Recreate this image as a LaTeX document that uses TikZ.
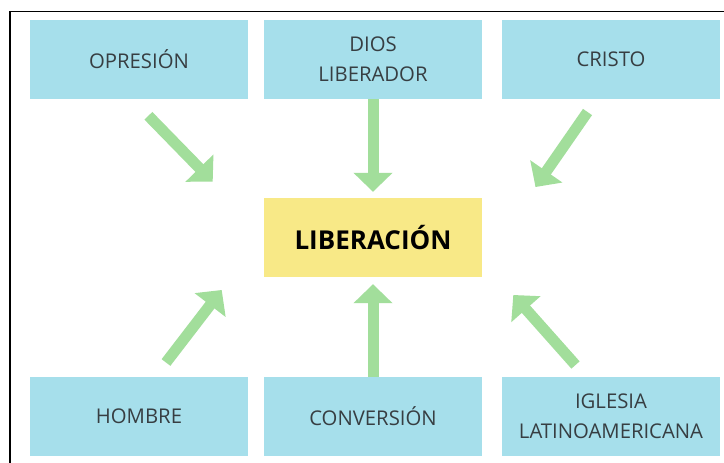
\documentclass[tikz,border=0pt]{standalone}
\usepackage{fontspec}
\setmainfont{Open Sans}
\usetikzlibrary{arrows.meta}
\definecolor{boxblue}{RGB}{166,223,235}
\definecolor{boxyellow}{RGB}{248,233,135}
\definecolor{arrgreen}{RGB}{162,222,155}
\definecolor{txtgrey}{RGB}{55,62,66}
\begin{document}
\begin{tikzpicture}[x=1pt,y=-1pt,
  bluebox/.style={fill=boxblue,draw=none,minimum width=218pt,minimum height=79pt,inner sep=0pt,
    align=center,text=txtgrey,font=\fontsize{20.3}{30}\selectfont},
  mainbox/.style={fill=boxyellow,draw=none,minimum width=218pt,minimum height=79pt,inner sep=0pt,
    text=black,font=\fontsize{26}{30}\selectfont\bfseries},
  bigarrow/.style={draw=arrgreen,line width=11pt,-{Triangle[width=38pt,length=19pt]}}]
\useasboundingbox (0,0) rectangle (724,463);
\fill[white] (0,0) rectangle (724,463);
% frame
\draw[line width=1.8pt,line cap=rect] (9.7,470) -- (9.7,11.5) -- (730,11.5);
% nodes
\node[bluebox] (opresion) at (139,59.5) {OPRESIÓN};
\node[bluebox] (dios) at (373,59.5) {DIOS\\LIBERADOR};
\node[bluebox] (cristo) at (611,59.5) {CRISTO};
\node[bluebox] (hombre) at (139,416.5) {HOMBRE};
\node[bluebox] (conversion) at (373,416.5) {CONVERSIÓN};
\node[bluebox] (iglesia) at (611,416.5) {IGLESIA\\LATINOAMERICANA};
\node[mainbox] (liberacion) at (373,237.5) {LIBERACIÓN};
% free arrow ends
\coordinate (tlS) at (148.4,115.8);
\coordinate (tlE) at (212.7,181.7);
\coordinate (trS) at (587.5,112);
\coordinate (trE) at (535.5,187);
\coordinate (blS) at (166,362.5);
\coordinate (blE) at (221.7,290);
\coordinate (brS) at (575.5,365);
\coordinate (brE) at (513.3,295);
% arrows
\draw[bigarrow] (tlS) -- (tlE);
\draw[bigarrow] (trS) -- (trE);
\draw[bigarrow] (blS) -- (blE);
\draw[bigarrow] (brS) -- (brE);
\draw[bigarrow,shorten >=6pt] (dios.south) -- (liberacion.north);
\draw[bigarrow,shorten >=7pt] (conversion.north) -- (liberacion.south);
\end{tikzpicture}
\end{document}
